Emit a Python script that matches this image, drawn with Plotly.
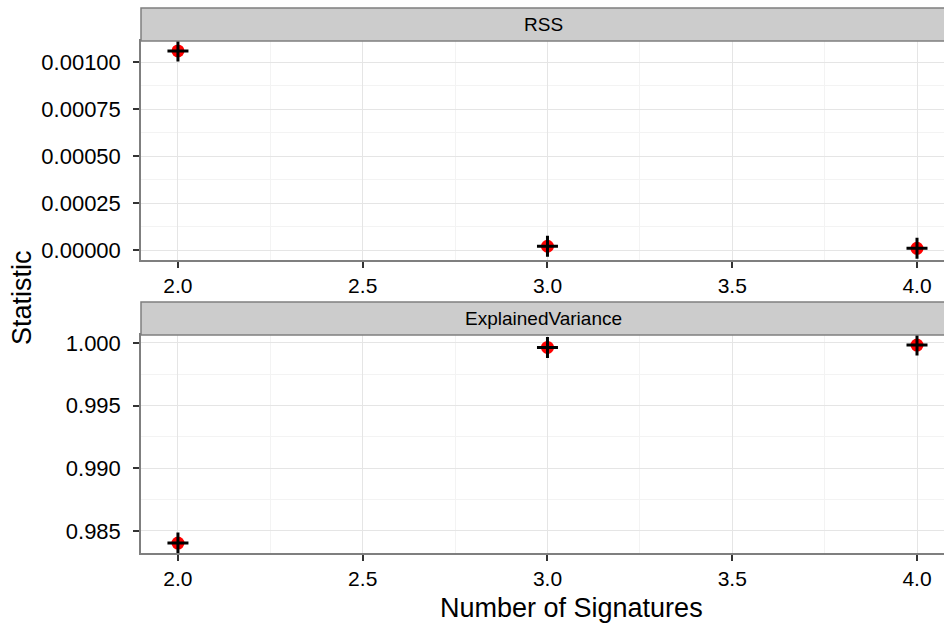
import plotly.graph_objects as go

# Data
n_signatures = [2, 3, 4]
rss = [0.001059, 0.000020, 0.000009]
explained_variance = [0.98403, 0.99965, 0.99983]
panel_titles = ["RSS", "ExplainedVariance"]

W, H = 944, 628
ml, mt, mb = 141, 41, 75
plot_h = H - mt - mb  # 512

def py(pix):
    return (H - mb - pix) / plot_h

FONT = "Liberation Sans, Arial, sans-serif"
fig = go.Figure()

for i, vals in enumerate([rss, explained_variance]):
    xa = "x" if i == 0 else "x2"
    ya = "y" if i == 0 else "y2"
    fig.add_trace(go.Scatter(x=n_signatures, y=vals, mode="markers", xaxis=xa, yaxis=ya,
                             marker=dict(color="red", size=13, symbol="circle", line=dict(width=0)),
                             showlegend=False, hoverinfo="skip"))
    fig.add_trace(go.Scatter(x=n_signatures, y=vals, mode="markers", xaxis=xa, yaxis=ya,
                             marker=dict(color="black", size=15, symbol="cross-thin",
                                         line=dict(color="black", width=3)),
                             showlegend=False, hoverinfo="skip"))

xcommon = dict(range=[1.9, 2.0 + (W - 178) / 369.5], dtick=0.5, tick0=2.0, tickformat=".1f",
               showgrid=True, gridcolor="#E5E5E5", gridwidth=1,
               minor=dict(dtick=0.25, tick0=2.0, showgrid=True, gridcolor="#F3F3F3", gridwidth=1),
               ticks="outside", ticklen=6, tickwidth=1.5, tickcolor="#333333",
               showline=True, mirror=True, linecolor="#7F7F7F", linewidth=1.5,
               zeroline=False, ticklabelstandoff=0,
               tickfont=dict(family=FONT, size=21, color="black"))
ycommon = dict(showgrid=True, gridcolor="#E5E5E5", gridwidth=1,
               ticks="outside", ticklen=6, tickwidth=1.5, tickcolor="#333333",
               showline=True, mirror=False, linecolor="#7F7F7F", linewidth=1.5,
               zeroline=False, ticklabelstandoff=8,
               tickfont=dict(family=FONT, size=22, color="black"))

top_dom = [py(260), 1.0]
bot_dom = [0.0, py(335)]

fig.update_layout(
    width=W, height=H,
    margin=dict(l=ml, r=0, t=mt, b=mb),
    plot_bgcolor="white", paper_bgcolor="white",
    xaxis=dict(**xcommon, anchor="y", domain=[0, 1]),
    xaxis2=dict(**xcommon, anchor="y2", domain=[0, 1]),
    yaxis=dict(**ycommon, anchor="x", domain=top_dom,
               range=[-0.0000532, 0.0011117], dtick=0.00025, tickformat=".5f",
               minor=dict(dtick=0.000125, showgrid=True, gridcolor="#F3F3F3")),
    yaxis2=dict(**ycommon, anchor="x2", domain=bot_dom,
                range=[0.98324, 1.000638], dtick=0.005, tick0=0.985, tickformat=".3f",
                minor=dict(dtick=0.0025, tick0=0.985, showgrid=True, gridcolor="#F3F3F3")),
)

# strips
strips = [(8, 41, panel_titles[0]), (302, 335, panel_titles[1])]
for top, bot, label in strips:
    fig.add_shape(type="rect", xref="paper", yref="paper", x0=0, x1=1.05,
                  y0=py(bot), y1=py(top), fillcolor="#CCCCCC",
                  line=dict(color="#7F7F7F", width=1.5), layer="above")
    fig.add_annotation(xref="paper", yref="paper", x=(543 - ml) / (W - ml), y=py((top + bot) / 2),
                       text=label, showarrow=False, xanchor="center", yanchor="middle",
                       font=dict(family=FONT, size=19, color="black"))

fig.add_annotation(xref="paper", yref="paper", x=(571 - ml) / (W - ml), y=py(608),
                   text="Number of Signatures", showarrow=False, xanchor="center", yanchor="middle",
                   font=dict(family=FONT, size=27, color="black"))
fig.add_annotation(xref="paper", yref="paper", x=(22 - ml) / (W - ml), y=py(297),
                   text="Statistic", showarrow=False, xanchor="center", yanchor="middle", textangle=-90,
                   font=dict(family=FONT, size=27, color="black"))

fig.write_html("out.html", config={"displayModeBar": False},
               post_script="document.body.style.margin='0';document.body.style.padding='0';")
